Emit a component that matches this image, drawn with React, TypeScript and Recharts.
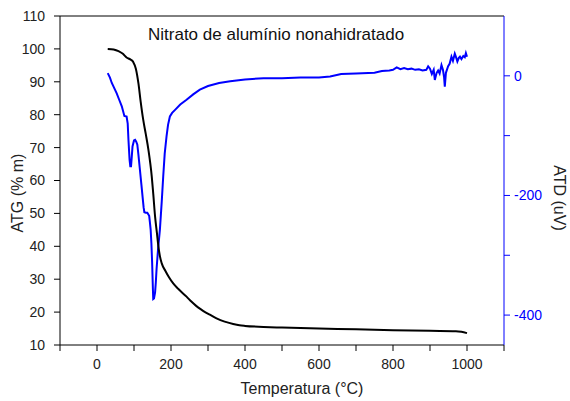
import { LineChart, Line, XAxis, YAxis, Label, CartesianGrid } from "recharts";

const FONT = '"Liberation Sans", Arial, sans-serif';
const BLUE = "#0000FF";

// ATG (mass %) — left axis
const atgTemp = [29, 45, 58, 70, 80, 90, 98, 105, 112, 118, 125, 132, 139, 148, 152, 157, 162, 166, 170, 175, 185, 195, 206, 220, 242, 255, 268, 280, 292, 305, 323, 345, 368, 385, 400, 450, 500, 600, 700, 800, 900, 970, 985, 1000];
const atgValue = [100, 99.8, 99.3, 98.5, 97.4, 96.8, 96, 94, 89.5, 84, 78.4, 74, 69.3, 61.2, 56, 49, 44, 39.9, 37, 34.8, 32.5, 30.5, 28.7, 27, 24.7, 23.2, 21.9, 20.9, 20.0, 19.2, 18.1, 17.1, 16.4, 16.0, 15.8, 15.5, 15.3, 15.0, 14.8, 14.5, 14.3, 14.2, 14.0, 13.6];

// ATD (uV) — right axis
const atdTemp = [29, 35, 40, 53, 60, 67, 74, 80, 83, 85, 88, 90, 92, 94, 96, 100, 103, 106, 109, 112, 116, 120, 123, 126, 128, 132, 136, 141, 143, 145, 147, 149, 151, 152, 154, 157, 159, 161, 165, 170, 175, 179, 183, 188, 192, 197, 203, 211, 225, 242, 260, 278, 300, 330, 360, 400, 450, 500, 550, 600, 630, 660, 700, 750, 770, 790, 800, 810, 820, 830, 840, 850, 860, 870, 880, 890, 895, 900, 905, 910, 913, 918, 922, 926, 931, 935, 938, 940, 943, 949, 953, 958, 962, 967, 971, 974, 978, 981, 985, 990, 994, 997, 1000];
const atdValue = [4.5, -3, -12, -29, -40, -51, -67, -68, -80, -107, -140, -151, -151, -135, -118, -108, -107, -110, -115, -132, -157, -182, -201, -220, -228, -229, -229, -234, -245, -257, -280, -312, -355, -373, -372, -362, -345, -323, -290, -257, -210, -168, -130, -101, -82, -68, -62, -57, -48, -40, -31, -23, -17, -12, -9, -6, -4, -4, -3, -3, -1, 3, 4, 5, 8, 9, 10, 14, 11, 13, 11, 12, 10, 11, 9, 10, 16, 12, 3, 10, -7, 5, 9, 4, 18, 10, -2, -18, 5, 16, 20, 32, 25, 37, 30, 24, 30, 32, 28, 33, 31, 38, 32];

const xTicks = [-100, 0, 100, 200, 300, 400, 500, 600, 700, 800, 900, 1000, 1100];
const xLabels = [0, 200, 400, 600, 800, 1000];
const leftTicks = [10, 15, 20, 25, 30, 35, 40, 45, 50, 55, 60, 65, 70, 75, 80, 85, 90, 95, 100, 105, 110];
const leftLabels = [10, 20, 30, 40, 50, 60, 70, 80, 90, 100, 110];
const rightTicks = [-400, -300, -200, -100, 0];
const rightLabels = [-400, -200, 0];

const atgData = atgTemp.map((t, i) => ({ t, atg: atgValue[i] }));
const atdData = atdTemp.map((t, i) => ({ t, atd: atdValue[i] }));

// layout
const W = 570;
const H = 401;
const TOP = 16;
const LEFT_W = 60;
const RIGHT_W = 66;
const BOTTOM_H = 56;

const txt = { fontFamily: FONT, fontSize: 14 };

// labels only; tick marks come from recharts' own tickLine
const BottomLabel = (p: any) =>
  xLabels.includes(p.payload.value) ? (
    <text x={p.x} y={p.y} dy="0.71em" textAnchor="middle" fill="#222" style={txt}>
      {p.payload.value}
    </text>
  ) : (
    <g />
  );

const LeftLabel = (p: any) =>
  leftLabels.includes(p.payload.value) ? (
    <text x={p.x} y={p.y} dy="0.355em" textAnchor="end" fill="#222" style={txt}>
      {p.payload.value}
    </text>
  ) : (
    <g />
  );

const RightLabel = (p: any) =>
  rightLabels.includes(p.payload.value) ? (
    <text x={p.x} y={p.y} dy="0.355em" textAnchor="start" fill={BLUE} style={txt}>
      {p.payload.value}
    </text>
  ) : (
    <g />
  );

const labelFont = { fontFamily: FONT, fontSize: 16 };

export default function App() {
  return (
    <div style={{ position: "absolute", left: 0, top: 0, width: W, height: H, background: "#fff" }}>
      <LineChart width={W} height={H} margin={{ top: TOP, right: 0, bottom: 0, left: 0 }}>
        {/* top edge of the frame */}
        <CartesianGrid
          xAxisId="b"
          yAxisId="l"
          vertical={false}
          horizontalValues={[110]}
          stroke="#000"
          strokeOpacity={1}
        />
        <XAxis
          xAxisId="b"
          dataKey="t"
          type="number"
          domain={[-100, 1100]}
          ticks={xTicks}
          allowDataOverflow
          height={BOTTOM_H}
          tickSize={6}
          tickMargin={8}
          tickLine={{ stroke: "#000" }}
          tick={BottomLabel}
          axisLine={{ stroke: "#000" }}
        >
          <Label
            content={() => (
              <text x={302} y={394} textAnchor="middle" fill="#222" style={labelFont}>
                Temperatura (°C)
              </text>
            )}
          />
        </XAxis>
        <YAxis
          yAxisId="l"
          type="number"
          domain={[10, 110]}
          ticks={leftTicks}
          allowDataOverflow
          width={LEFT_W}
          tickSize={6}
          tickMargin={9}
          tickLine={{ stroke: "#000" }}
          tick={LeftLabel}
          axisLine={{ stroke: "#000" }}
        >
          <Label
            content={() => (
              <g>
                <text x={17} y={193} transform="rotate(-90 17 193)" textAnchor="middle" dominantBaseline="central" fill="#222" style={labelFont}>
                  ATG (% m)
                </text>
                <text x={148} y={40} textAnchor="start" fill="#111" style={{ fontFamily: FONT, fontSize: 17 }}>
                  Nitrato de alumínio nonahidratado
                </text>
              </g>
            )}
          />
        </YAxis>
        <YAxis
          yAxisId="r"
          orientation="right"
          type="number"
          domain={[-450, 100]}
          ticks={rightTicks}
          allowDataOverflow
          width={RIGHT_W}
          tickSize={6}
          tickMargin={4}
          tickLine={{ stroke: BLUE }}
          tick={RightLabel}
          axisLine={{ stroke: BLUE }}
        >
          <Label
            content={() => (
              <text x={559} y={198} transform="rotate(90 559 198)" textAnchor="middle" dominantBaseline="central" fill="#222" style={labelFont}>
                ATD (uV)
              </text>
            )}
          />
        </YAxis>
        <Line
          data={atdData}
          xAxisId="b"
          yAxisId="r"
          dataKey="atd"
          type="linear"
          stroke={BLUE}
          strokeWidth={2}
          dot={false}
          isAnimationActive={false}
        />
        <Line
          data={atgData}
          xAxisId="b"
          yAxisId="l"
          dataKey="atg"
          type="monotone"
          stroke="#000"
          strokeWidth={2}
          dot={false}
          isAnimationActive={false}
        />
      </LineChart>
    </div>
  );
}
